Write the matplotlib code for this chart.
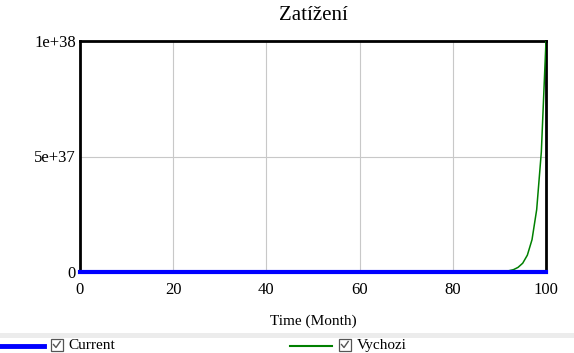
import matplotlib
matplotlib.use("Agg")
import matplotlib.pyplot as plt
from matplotlib.patches import Rectangle
from matplotlib.lines import Line2D

plt.rcParams['font.family'] = ['Liberation Serif', 'DejaVu Serif']

title = "Zatížení"
xlabel = "Time (Month)"
current_t = [0, 100]
current_v = [0, 0]
vychozi_t = [0, 86, 87, 88, 89, 90, 91, 92, 93, 94, 95, 96, 97, 98, 99, 100]
vychozi_v = [0, 1.1e34, 2.1e34, 4.0e34, 7.7e34, 1.5e35, 2.8e35, 5.4e35, 1.0e36, 2.0e36,
             3.8e36, 7.3e36, 1.4e37, 2.7e37, 5.2e37, 1.0e38]
xticks = [0, 20, 40, 60, 80, 100]
yticks = [0, 5e37, 1e38]
yticklabels = ["0", "5e+37", "1e+38"]
legend_labels = ["Current", "Vychozi"]
colors = ["#0000ff", "#008000"]

W, H = 574, 353
fig = plt.figure(figsize=(W/100, H/100), dpi=100)
ax = fig.add_axes([80/W, 1-272/H, 466/W, 231/H])
ax.plot(vychozi_t, vychozi_v, color=colors[1], lw=1.1, zorder=3)
ax.plot(current_t, current_v, color=colors[0], lw=3, zorder=4, clip_on=False)
ax.set_xlim(0, 100)
ax.set_ylim(0, 1e38)
ax.set_xticks(xticks)
ax.set_yticks(yticks)
ax.set_yticklabels(yticklabels)
ax.tick_params(axis='y', length=0, labelsize=12, pad=3, colors='black')
ax.tick_params(axis='x', length=0, labelsize=12, pad=7, colors='black')
ax.grid(True, color='#c8c8c8', lw=0.8)
for s in ax.spines.values():
    s.set_linewidth(2)
    s.set_color('black')
ax.set_title(title, fontsize=15, pad=15)
ax.set_xlabel(xlabel, fontsize=11, labelpad=12)

fig.patches.append(Rectangle((0, 1-337.5/H), 1, 4.5/H, transform=fig.transFigure,
                             facecolor='#ececec', edgecolor='none'))
y_leg = 1 - 345.5/H
for (x0, x1, xc, xt), lab, c, lw in zip([(0, 44, 51, 68), (290, 332, 339, 357)],
                                        legend_labels, colors, [3.5, 1.5]):
    fig.add_artist(Line2D([x0/W, x1/W], [y_leg, y_leg], color=c, lw=lw,
                          transform=fig.transFigure))
    # checkbox
    fig.patches.append(Rectangle((xc/W, 1-350.5/H), 11.5/W, 11.5/H, transform=fig.transFigure,
                                 facecolor='white', edgecolor='#555555', lw=0.9))
    fig.add_artist(Line2D([(xc+2.5)/W, (xc+5.0)/W, (xc+9.2)/W],
                          [1-344.5/H, 1-347.5/H, 1-341.5/H], color='#555555', lw=1.0,
                          transform=fig.transFigure))
    fig.text(xt/W, y_leg, lab, fontsize=11, va='center', ha='left')

fig.savefig("out.png", dpi=100)
